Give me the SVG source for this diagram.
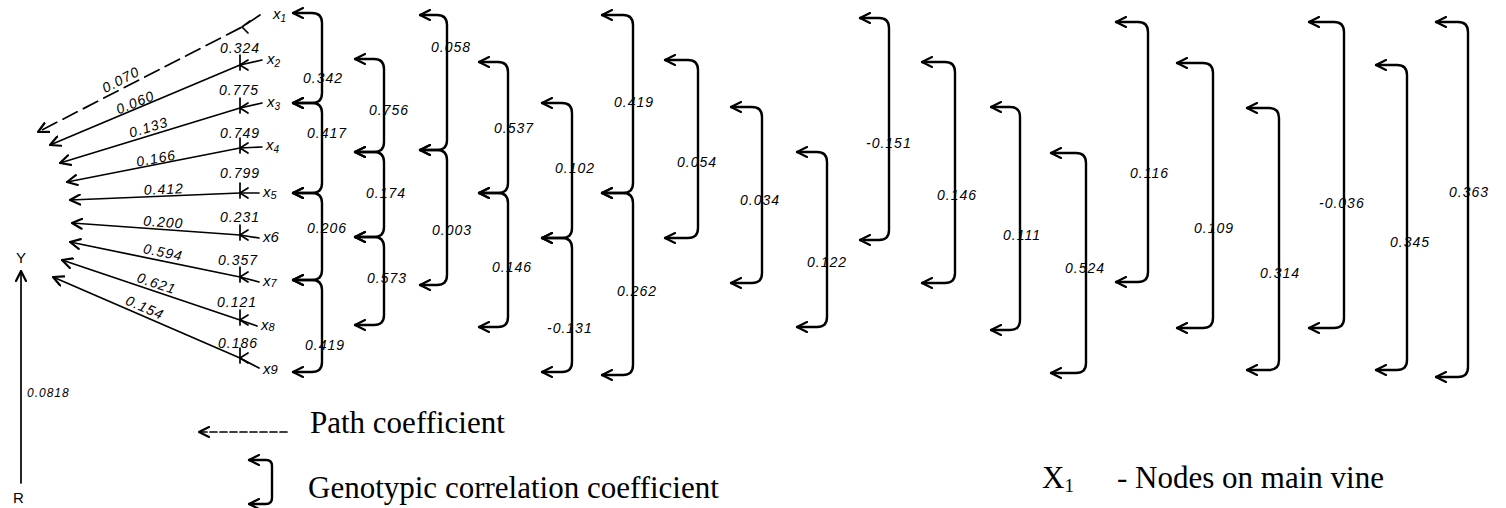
<svg xmlns="http://www.w3.org/2000/svg" width="1506" height="508" viewBox="0 0 1506 508">
  <style>
    .ln { fill: none; stroke: #000; stroke-width: 1.7; stroke-linecap: round; stroke-linejoin: round; }
    .br { fill: none; stroke: #000; stroke-width: 2.4; stroke-linecap: round; stroke-linejoin: round; }
    .hw { font-family: "Liberation Sans", Arial, sans-serif; font-size: 14px; font-style: italic; letter-spacing: 1px; fill: #000; }
    .nd { font-family: "Liberation Sans", Arial, sans-serif; font-size: 15px; font-style: italic; fill: #000; }
    .lg { font-family: "Liberation Serif", "Times New Roman", serif; font-size: 31px; fill: #000; }
    .sub { font-size: 19px; }
  </style>
  <defs>
    <marker id="ah" viewBox="0 0 12 12" refX="11" refY="6" markerWidth="12" markerHeight="12" markerUnits="userSpaceOnUse" orient="auto-start-reverse">
      <path d="M1,1 L11,6 L1,11" fill="none" stroke="#000" stroke-width="2.2" stroke-linecap="round" stroke-linejoin="round"/>
    </marker>
  </defs>

  <rect width="1506" height="508" fill="#fff"/>

  <!-- path coefficient arrows: each node to Y -->
  <g id="connectors">
    <polyline class="ln" points="260,15 242,27 38,132" stroke-dasharray="16 7" marker-end="url(#ah)"/>
    <polyline class="ln" points="262,60 240,65 50,145" marker-end="url(#ah)"/>
    <polyline class="ln" points="262,103 240,108 60,163" marker-end="url(#ah)"/>
    <polyline class="ln" points="262,147 240,148 67,182" marker-end="url(#ah)"/>
    <polyline class="ln" points="259,193 240,193 70,200" marker-end="url(#ah)"/>
    <polyline class="ln" points="259,238 240,235 72,223" marker-end="url(#ah)"/>
    <polyline class="ln" points="259,282 240,277 70,242" marker-end="url(#ah)"/>
    <polyline class="ln" points="257,326 240,320 62,260" marker-end="url(#ah)"/>
    <polyline class="ln" points="259,368 240,358 53,277" marker-end="url(#ah)"/>

    <!-- crossing marks between neighbouring nodes -->
    <g class="ln">
      <path d="M250,21 L242,27 L248,33"/>
      <path d="M248,60 L240,65 L248,70 M240,55 V70"/>
      <path d="M248,103 L240,108 L248,113 M240,98 V113"/>
      <path d="M248,143 L240,148 L248,153 M240,138 V153"/>
      <path d="M248,188 L240,193 L248,198 M240,183 V198"/>
      <path d="M248,230 L240,235 L248,240 M240,225 V240"/>
      <path d="M248,272 L240,277 L248,282 M240,267 V282"/>
      <path d="M248,315 L240,320 L248,325 M240,310 V325"/>
      <path d="M248,353 L240,358 L248,363 M240,348 V363"/>
    </g>

    <!-- path coefficient values -->
    <text class="hw" text-anchor="middle" x="123" y="84" transform="rotate(-27.6 123 84)">0.070</text>
    <text class="hw" text-anchor="middle" x="137" y="107" transform="rotate(-22 137 107)">0.060</text>
    <text class="hw" text-anchor="middle" x="150" y="132" transform="rotate(-17 150 132)">0.133</text>
    <text class="hw" text-anchor="middle" x="157" y="163" transform="rotate(-10.5 157 163)">0.166</text>
    <text class="hw" text-anchor="middle" x="164" y="194" transform="rotate(-2.4 164 194)">0.412</text>
    <text class="hw" text-anchor="middle" x="163" y="227" transform="rotate(4.1 163 227)">0.200</text>
    <text class="hw" text-anchor="middle" x="162" y="257" transform="rotate(11.6 162 257)">0.594</text>
    <text class="hw" text-anchor="middle" x="155" y="288" transform="rotate(18.6 155 288)">0.621</text>
    <text class="hw" text-anchor="middle" x="143" y="312" transform="rotate(23.4 143 312)">0.154</text>

    <!-- neighbouring node correlations -->
    <g class="hw" text-anchor="middle">
      <text x="240" y="53">0.324</text>
      <text x="239" y="95">0.775</text>
      <text x="240" y="138">0.749</text>
      <text x="240" y="178">0.799</text>
      <text x="240" y="222">0.231</text>
      <text x="238" y="265">0.357</text>
      <text x="237" y="307">0.121</text>
      <text x="238" y="348">0.186</text>
    </g>

    <!-- correlation brackets -->
    <g class="br" marker-start="url(#ah)" marker-end="url(#ah)">
      <!-- column 1 -->
      <path d="M293,13 H312 Q322,13 322,23 V93 Q322,103 312,103 H293"/>
      <path d="M293,103 H312 Q322,103 322,113 V183 Q322,193 312,193 H293"/>
      <path d="M293,193 H312 Q322,193 322,203 V270 Q322,280 312,280 H293"/>
      <path d="M293,280 H312 Q322,280 322,290 V362 Q322,372 312,372 H293"/>
      <!-- column 2 -->
      <path d="M355,59 H374 Q384,59 384,69 V142 Q384,152 374,152 H355"/>
      <path d="M355,152 H374 Q384,152 384,162 V227 Q384,237 374,237 H355"/>
      <path d="M355,237 H374 Q384,237 384,247 V315 Q384,325 374,325 H355"/>
      <!-- column 3 -->
      <path d="M420,15 H437 Q447,15 447,25 V140 Q447,150 437,150 H420"/>
      <path d="M420,150 H437 Q447,150 447,160 V275 Q447,285 437,285 H420"/>
      <!-- column 4 -->
      <path d="M479,62 H498 Q508,62 508,72 V183 Q508,193 498,193 H479"/>
      <path d="M479,193 H498 Q508,193 508,203 V317 Q508,327 498,327 H479"/>
      <!-- column 5 -->
      <path d="M542,103 H562 Q572,103 572,113 V228 Q572,238 562,238 H542"/>
      <path d="M542,238 H562 Q572,238 572,248 V362 Q572,372 562,372 H542"/>
      <!-- column 6 -->
      <path d="M602,15 H623 Q633,15 633,25 V183 Q633,193 623,193 H602"/>
      <path d="M602,193 H623 Q633,193 633,203 V365 Q633,375 623,375 H602"/>
      <!-- single spans -->
      <path d="M665,60 H688 Q698,60 698,70 V228 Q698,238 688,238 H665"/>
      <path d="M731,107 H752 Q762,107 762,117 V273 Q762,283 752,283 H731"/>
      <path d="M797,152 H817 Q827,152 827,162 V317 Q827,327 817,327 H797"/>
      <path d="M860,18 H879 Q889,18 889,28 V230 Q889,240 879,240 H860"/>
      <path d="M922,62 H945 Q955,62 955,72 V273 Q955,283 945,283 H922"/>
      <path d="M991,107 H1010 Q1020,107 1020,117 V320 Q1020,330 1010,330 H991"/>
      <path d="M1051,153 H1076 Q1086,153 1086,163 V363 Q1086,373 1076,373 H1051"/>
      <path d="M1116,22 H1138 Q1148,22 1148,32 V272 Q1148,282 1138,282 H1116"/>
      <path d="M1177,63 H1203 Q1213,63 1213,73 V318 Q1213,328 1203,328 H1177"/>
      <path d="M1247,108 H1269 Q1279,108 1279,118 V360 Q1279,370 1269,370 H1247"/>
      <path d="M1309,22 H1334 Q1344,22 1344,32 V318 Q1344,328 1334,328 H1309"/>
      <path d="M1376,65 H1397 Q1407,65 1407,75 V360 Q1407,370 1397,370 H1376"/>
      <path d="M1436,22 H1458 Q1468,22 1468,32 V367 Q1468,377 1458,377 H1436"/>
    </g>

    <!-- correlation values on brackets -->
    <g class="hw">
      <text x="303" y="83">0.342</text>
      <text x="307" y="138">0.417</text>
      <text x="307" y="233">0.206</text>
      <text x="305" y="350">0.419</text>
      <text x="369" y="115">0.756</text>
      <text x="366" y="198">0.174</text>
      <text x="367" y="283">0.573</text>
      <text x="431" y="52">0.058</text>
      <text x="432" y="235">0.003</text>
      <text x="494" y="133">0.537</text>
      <text x="492" y="272">0.146</text>
      <text x="555" y="173">0.102</text>
      <text x="547" y="333">-0.131</text>
      <text x="614" y="107">0.419</text>
      <text x="617" y="296">0.262</text>
      <text x="677" y="167">0.054</text>
      <text x="740" y="205">0.034</text>
      <text x="807" y="267">0.122</text>
      <text x="866" y="148">-0.151</text>
      <text x="937" y="200">0.146</text>
      <text x="1003" y="240">0.111</text>
      <text x="1065" y="273">0.524</text>
      <text x="1130" y="178">0.116</text>
      <text x="1194" y="233">0.109</text>
      <text x="1260" y="278">0.314</text>
      <text x="1319" y="208">-0.036</text>
      <text x="1390" y="247">0.345</text>
      <text x="1449" y="197">0.363</text>
    </g>

    <!-- residual to Y -->
    <path class="ln" d="M21,483 V271" marker-end="url(#ah)"/>
    <text class="hw" x="27" y="397" style="font-size:12px">0.0818</text>
  </g>

  <!-- nodes on main vine -->
  <g id="node-x1"><text class="nd" x="273" y="19">x<tspan dy="3" style="font-size:10px">1</tspan></text></g>
  <g id="node-x2"><text class="nd" x="267" y="64">x<tspan dy="3" style="font-size:10px">2</tspan></text></g>
  <g id="node-x3"><text class="nd" x="267" y="107">x<tspan dy="3" style="font-size:10px">3</tspan></text></g>
  <g id="node-x4"><text class="nd" x="266" y="150">x<tspan dy="3" style="font-size:10px">4</tspan></text></g>
  <g id="node-x5"><text class="nd" x="263" y="197">x<tspan dy="2" style="font-size:11px">5</tspan></text></g>
  <g id="node-x6"><text class="nd" x="263" y="242">x6</text></g>
  <g id="node-x7"><text class="nd" x="263" y="286">x<tspan dy="1" style="font-size:11px">7</tspan></text></g>
  <g id="node-x8"><text class="nd" x="261" y="330">x<tspan dy="1" style="font-size:11px">8</tspan></text></g>
  <g id="node-x9"><text class="nd" x="263" y="374">x<tspan style="font-size:13px">9</tspan></text></g>
  <g id="node-Y"><text class="nd" x="16" y="263" style="font-style:normal">Y</text></g>
  <g id="node-R"><text class="nd" x="13" y="503" style="font-style:normal">R</text></g>

  <!-- legend -->
  <g id="legend">
    <path class="ln" d="M287,432 H199" stroke-dasharray="7 3" stroke-width="1.3" marker-end="url(#ah)"/>
    <text class="lg" x="310" y="433">Path coefficient</text>
    <path class="br" d="M249,460 H266 Q272,460 272,466 V498 Q272,504 266,504 H249" stroke-width="1.8" marker-start="url(#ah)" marker-end="url(#ah)"/>
    <text class="lg" x="308" y="498">Genotypic correlation coefficient</text>
    <text class="lg" x="1042" y="488">X<tspan class="sub" dy="4">1</tspan><tspan dy="-4" x="1117">- Nodes on main vine</tspan></text>
  </g>
</svg>
